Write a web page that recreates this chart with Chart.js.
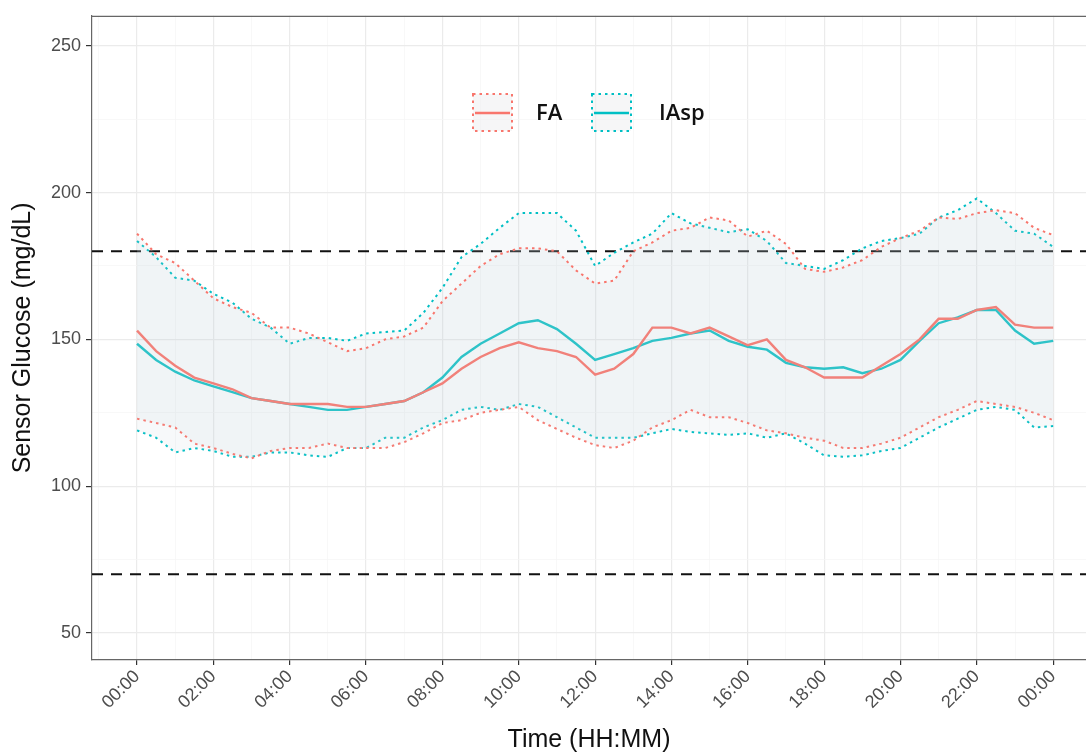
<!DOCTYPE html>
<html>
<head>
<meta charset="utf-8">
<script src="https://cdn.jsdelivr.net/npm/chart.js@4"></script>
<style>
  html, body { margin: 0; padding: 0; background: #fff; overflow: hidden; }
  #wrap { width: 1086px; height: 755px; position: relative; }
</style>
</head>
<body>
<div id="wrap"><canvas id="glucoseChart"></canvas></div>
<script>
// time of day in hours, every 30 minutes
const hours = [0, 0.5, 1, 1.5, 2, 2.5, 3, 3.5, 4, 4.5, 5, 5.5, 6, 6.5, 7, 7.5, 8, 8.5, 9, 9.5,
  10, 10.5, 11, 11.5, 12, 12.5, 13, 13.5, 14, 14.5, 15, 15.5, 16, 16.5, 17, 17.5, 18, 18.5, 19, 19.5,
  20, 20.5, 21, 21.5, 22, 22.5, 23, 23.5, 24];

const faMedian = [153, 146, 141, 137, 135, 133, 130, 129, 128, 128, 128, 127, 127, 128, 129, 132, 135, 140, 144, 147,
  149, 147, 146, 144, 138, 140, 145, 154, 154, 152, 154, 151, 148, 150, 143, 140.5, 137, 137, 137, 141,
  145, 150, 157, 157, 160, 161, 155, 154, 154];
const faUpper = [186, 179, 176, 170, 164, 161, 159, 154, 154, 152, 149, 146, 147, 150, 151, 154, 163, 169, 175, 179,
  181, 181, 180, 173.5, 169, 170, 180, 183, 187, 188, 191.5, 190.5, 185, 187, 182.5, 174, 173, 174.5, 177, 181.5,
  184.5, 187, 191.5, 191, 193, 194, 193, 188, 185.5];
const faLower = [123, 121.5, 120, 114.5, 113, 111, 109.5, 112, 113, 113, 114.5, 113, 113, 113, 115, 118, 121.5, 122.5, 125, 126,
  127, 122.5, 119.5, 116.5, 114, 113, 115.5, 120, 122.5, 126, 123.5, 123.5, 121.5, 119, 118, 116.5, 115.5, 113, 113, 114.5,
  116.5, 120, 123.5, 126, 129, 128, 127, 125, 122.5];

const iaspMedian = [148.5, 143, 139, 136, 134, 132, 130, 129, 128, 127, 126, 126, 127, 128, 129, 132, 137, 144, 148.5, 152,
  155.5, 156.5, 153.5, 148.5, 143, 145, 147, 149.5, 150.5, 152, 153, 149.5, 147.5, 146.5, 142, 140.5, 140, 140.5, 138.5, 140,
  143, 149.5, 155.5, 157.5, 160, 160, 153, 148.5, 149.5];
const iaspUpper = [183.5, 178, 171, 170, 165.5, 162.5, 157, 154, 148.5, 150.5, 150.5, 149.5, 152, 152.5, 153, 159, 167.5, 178, 182.5, 188,
  193, 193, 193, 187, 175, 179.5, 183, 186, 193, 189.5, 188, 186.5, 187.5, 183.5, 176, 175, 174, 177, 181, 183.5,
  184.5, 186, 191.5, 194, 198, 193, 187, 186, 181.5];
const iaspLower = [119, 116.5, 111.5, 113, 112, 110, 110, 111.5, 111.5, 110.5, 110, 113, 113, 116.5, 116.5, 120, 122.5, 126, 127, 126,
  128, 127, 123.5, 120, 116.5, 116.5, 116.5, 118, 119.5, 118.5, 118, 117.5, 118, 116.5, 118, 114.5, 110.5, 110, 110.5, 112,
  113, 116.5, 120, 123, 126, 127, 126, 120, 120.5];

// target range lines
const refLines = [180, 70];

const groups = ["FA", "IAsp"];
const groupColors = ["#F8766D", "#00BFC4"];

const xMin = -1.18, xMax = 24.86;
const yMin = 40.8, yMax = 260.2;

function pts(values) {
  return values.map((v, i) => ({ x: hours[i], y: v }));
}

const ribbonFill = "rgba(195, 212, 218, 0.13)";

function bandSets(label, color, upper, median, lower, baseIndex) {
  return [
    { label: label + " upper", data: pts(upper), borderColor: color, borderWidth: 2, borderDash: [2.5, 4],
      pointRadius: 0, fill: baseIndex + 1, backgroundColor: ribbonFill, tension: 0 },
    { label: label + " lower", data: pts(lower), borderColor: color, borderWidth: 2, borderDash: [2.5, 4],
      pointRadius: 0, fill: false, tension: 0 },
    { label: label, data: pts(median), borderColor: color, borderWidth: 2.4,
      pointRadius: 0, fill: false, tension: 0 }
  ];
}

const datasets = [
  ...bandSets("FA", groupColors[0], faUpper, faMedian, faLower, 0),
  ...bandSets("IAsp", groupColors[1], iaspUpper, iaspMedian, iaspLower, 3)
];
refLines.forEach(v => {
  datasets.push({
    label: "ref " + v,
    data: [{ x: xMin, y: v }, { x: xMax, y: v }],
    borderColor: "#111", borderWidth: 2, borderDash: [11, 8], pointRadius: 0, fill: false
  });
});

function hhmm(h) {
  const hh = Math.round(h) % 24;
  return (hh < 10 ? "0" : "") + hh + ":00";
}

// panel top border + ggplot-style legend
const extras = {
  id: "extras",
  afterDraw(chart) {
    const { ctx, chartArea } = chart;
    ctx.save();
    ctx.strokeStyle = "#666";
    ctx.lineWidth = 1.2;
    ctx.beginPath();
    ctx.moveTo(chartArea.left, chartArea.top + 0.5);
    ctx.lineTo(chartArea.right, chartArea.top + 0.5);
    ctx.stroke();

    const keys = [{ x: 473, tx: 536 }, { x: 592, tx: 659 }];
    groups.forEach((g, i) => {
      const k = keys[i];
      ctx.fillStyle = "rgba(240, 240, 242, 0.6)";
      ctx.fillRect(k.x, 94, 39, 37);
      ctx.setLineDash([2.5, 4]);
      ctx.lineWidth = 2;
      ctx.strokeStyle = groupColors[i];
      ctx.strokeRect(k.x, 94, 39, 37);
      ctx.setLineDash([]);
      ctx.lineWidth = 2.4;
      ctx.beginPath();
      ctx.moveTo(k.x + 2, 113);
      ctx.lineTo(k.x + 37, 113);
      ctx.stroke();
      ctx.fillStyle = "#111";
      ctx.font = "600 22px 'Open Sans', sans-serif";
      ctx.textBaseline = "middle";
      ctx.textAlign = "left";
      ctx.fillText(g, k.tx, 114);
    });
    ctx.restore();
  }
};

const tickFont = { family: "'Liberation Sans', Arial, sans-serif", size: 18 };
const titleFont = { family: "'Liberation Sans', Arial, sans-serif", size: 25 };

new Chart(document.getElementById("glucoseChart"), {
  type: "line",
  data: { datasets },
  options: {
    responsive: true,
    maintainAspectRatio: false,
    animation: false,
    layout: { padding: { top: 15, right: 0, left: 0, bottom: 0 } },
    plugins: { legend: { display: false }, tooltip: { enabled: false } },
    elements: { line: { borderCapStyle: "butt" } },
    scales: {
      x: {
        type: "linear",
        min: xMin, max: xMax,
        afterFit: s => { s.height = 95; },
        border: { display: true, color: "#666", width: 1.2 },
        grid: {
          color: c => (c.tick && Math.abs(c.tick.value % 2) === 0) ? "#ebebeb" : "#f5f5f5",
          lineWidth: c => (c.tick && Math.abs(c.tick.value % 2) === 0) ? 1.2 : 0.7,
          tickColor: c => (c.tick && Math.abs(c.tick.value % 2) === 0 && c.tick.value >= 0) ? "#333" : "rgba(0,0,0,0)",
          tickLength: 5
        },
        ticks: {
          stepSize: 1,
          includeBounds: false,
          autoSkip: false,
          minRotation: 45, maxRotation: 45,
          color: "#4d4d4d",
          font: tickFont,
          padding: 1,
          callback: v => (v >= 0 && v % 2 === 0) ? hhmm(v) : ""
        },
        title: {
          display: true, text: "Time (HH:MM)", color: "#111",
          font: titleFont,
          padding: { top: 4, bottom: 0 }
        }
      },
      y: {
        min: yMin, max: yMax,
        afterFit: s => { s.width = 92; },
        border: { display: true, color: "#666", width: 1.2 },
        grid: {
          color: c => (c.tick && c.tick.value % 50 === 0) ? "#ebebeb" : "#f5f5f5",
          lineWidth: c => (c.tick && c.tick.value % 50 === 0) ? 1.2 : 0.7,
          tickColor: c => (c.tick && c.tick.value % 50 === 0) ? "#333" : "rgba(0,0,0,0)",
          tickLength: 6
        },
        ticks: {
          stepSize: 25,
          includeBounds: false,
          color: "#4d4d4d",
          font: tickFont,
          padding: 5,
          callback: v => v % 50 === 0 ? String(v) : ""
        },
        title: {
          display: true, text: "Sensor Glucose (mg/dL)", color: "#111",
          font: titleFont,
          padding: { top: 8, bottom: 4 }
        }
      }
    }
  },
  plugins: [extras]
});
</script>
</body>
</html>
